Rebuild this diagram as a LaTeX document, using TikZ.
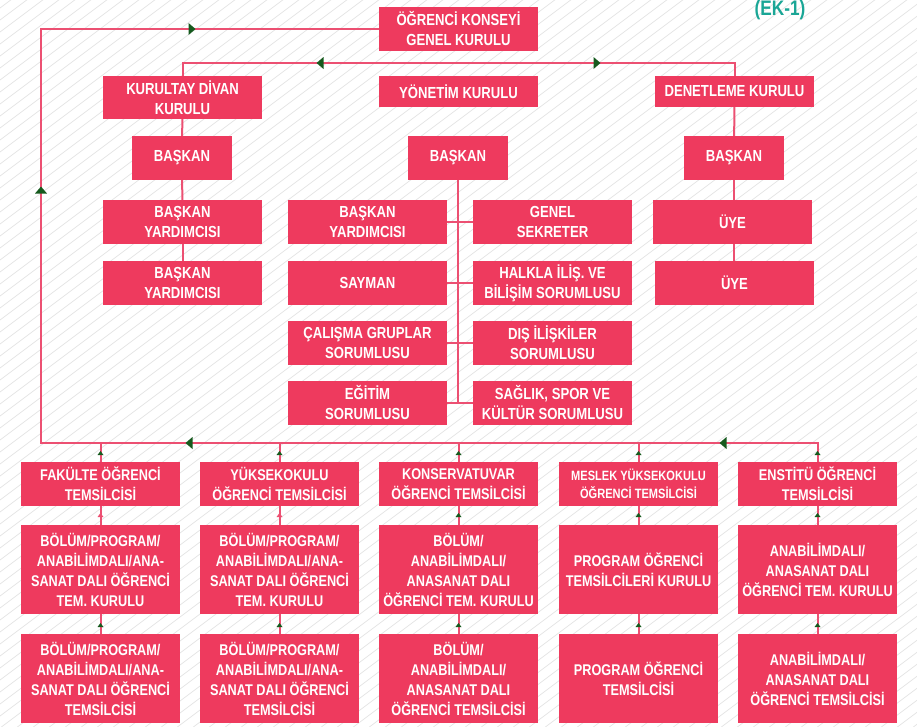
\documentclass[tikz,border=0pt]{standalone}
\usepackage{fontspec}
\setmainfont{Liberation Sans}[FakeStretch=0.82]
\usetikzlibrary{arrows.meta}
\definecolor{boxc}{RGB}{238,58,94}
\definecolor{linec}{RGB}{236,80,114}
\definecolor{arrc}{RGB}{22,90,30}
\definecolor{tealc}{RGB}{26,166,150}
\definecolor{hatchc}{RGB}{228,228,228}
\tikzset{
 box/.style={fill=boxc, text=white, font=\bfseries\fontsize{16}{20}\selectfont, align=center, inner sep=0pt, outer sep=0pt},
 sbox/.style={box, font=\bfseries\fontsize{15.5}{20}\selectfont},
 mbox/.style={box, font=\bfseries\fontsize{13.5}{18}\selectfont},
 conn/.style={draw=linec, line width=2pt},
 bigtip/.style={fill=arrc},
 smalltip/.style={fill=arrc},
 pinktip/.style={fill=linec},
}
\newcommand\bx[7]{\node[#1, minimum width={(#4-#2)*1pt}, minimum height={(#5-#3)*1pt}] (#6) at ({(#2+#4)/2},{(#3+#5)/2}) {#7};}
\newcommand\bigarr[3]{\fill[bigtip, shift={(#1,#2)}, rotate=#3] (3.5,0) -- (-3.5,6) -- (-3.5,-6) -- cycle;}
\newcommand\smarr[4]{\fill[#4, shift={(#1,#2)}, rotate=#3] (2,0) -- (-2,3) -- (-2,-3) -- cycle;}
\begin{document}
\begin{tikzpicture}[x=1pt,y=-1pt]
\useasboundingbox (0,0) rectangle (917,726);
\fill[white] (0,0) rectangle (917,726);
\begin{scope}
\clip (0,0) rectangle (917,726);
\foreach \i in {-70,...,60} {\draw[hatchc, line width=0.7pt] ({\i*16},740) -- ++(1040,-780);}
\end{scope}

% title
\node[text=tealc, font=\bfseries\fontsize{21}{24}\selectfont, anchor=base] (ek) at (780,15) {(EK-1)};

% top level
\bx{box}{379}{7}{538}{51}{top}{ÖĞRENCİ KONSEYİ\\GENEL KURULU}
\bx{box}{103}{76}{262}{119}{kur}{KURULTAY DİVAN\\KURULU}
\bx{box}{379}{76}{538}{107}{yon}{YÖNETİM KURULU}
\bx{box}{655}{76}{814}{107}{den}{DENETLEME KURULU}
\bx{box}{132}{136}{232}{180}{bl}{BAŞKAN}
\bx{box}{408}{136}{508}{180}{bm}{BAŞKAN}
\bx{box}{684}{136}{784}{180}{br}{BAŞKAN}
\bx{box}{103}{200}{262}{244}{ly1}{BAŞKAN\\YARDIMCISI}
\bx{box}{103}{261}{262}{305}{ly2}{BAŞKAN\\YARDIMCISI}
\bx{box}{288}{200}{447}{244}{m1}{BAŞKAN\\YARDIMCISI}
\bx{box}{288}{261}{447}{305}{m2}{SAYMAN}
\bx{box}{288}{321}{447}{365}{m3}{ÇALIŞMA GRUPLAR\\SORUMLUSU}
\bx{box}{288}{381}{447}{425}{m4}{EĞİTİM\\SORUMLUSU}
\bx{box}{473}{200}{632}{244}{n1}{GENEL\\SEKRETER}
\bx{box}{473}{261}{632}{305}{n2}{HALKLA İLİŞ. VE\\BİLİŞİM SORUMLUSU}
\bx{box}{473}{321}{632}{365}{n3}{DIŞ İLİŞKİLER\\SORUMLUSU}
\bx{box}{473}{381}{632}{425}{n4}{SAĞLIK, SPOR VE\\KÜLTÜR SORUMLUSU}
\bx{box}{653}{200}{812}{244}{u1}{ÜYE}
\bx{box}{655}{261}{814}{305}{u2}{ÜYE}

% bottom row 1
\bx{sbox}{21}{462}{180}{506}{a1}{FAKÜLTE ÖĞRENCİ\\TEMSİLCİSİ}
\bx{sbox}{200}{462}{359}{506}{b1}{YÜKSEKOKULU\\ÖĞRENCİ TEMSİLCİSİ}
\bx{sbox}{379}{462}{538}{506}{c1}{KONSERVATUVAR\\ÖĞRENCİ TEMSİLCİSİ}
\bx{mbox}{559}{462}{718}{506}{d1}{MESLEK YÜKSEKOKULU\\ÖĞRENCİ TEMSİLCİSİ}
\bx{sbox}{738}{462}{897}{506}{e1}{ENSTİTÜ ÖĞRENCİ\\TEMSİLCİSİ}
% bottom row 2
\bx{sbox}{21}{525}{180}{614}{a2}{BÖLÜM/PROGRAM/\\ANABİLİMDALI/ANA-\\SANAT DALI ÖĞRENCİ\\TEM. KURULU}
\bx{sbox}{200}{525}{359}{614}{b2}{BÖLÜM/PROGRAM/\\ANABİLİMDALI/ANA-\\SANAT DALI ÖĞRENCİ\\TEM. KURULU}
\bx{sbox}{379}{525}{538}{614}{c2}{BÖLÜM/\\ANABİLİMDALI/\\ANASANAT DALI\\ÖĞRENCİ TEM. KURULU}
\bx{sbox}{559}{525}{718}{614}{d2}{PROGRAM ÖĞRENCİ\\TEMSİLCİLERİ KURULU}
\bx{sbox}{738}{525}{897}{614}{e2}{ANABİLİMDALI/\\ANASANAT DALI\\ÖĞRENCİ TEM. KURULU}
% bottom row 3
\bx{sbox}{21}{634}{180}{723}{a3}{BÖLÜM/PROGRAM/\\ANABİLİMDALI/ANA-\\SANAT DALI ÖĞRENCİ\\TEMSİLCİSİ}
\bx{sbox}{200}{634}{359}{723}{b3}{BÖLÜM/PROGRAM/\\ANABİLİMDALI/ANA-\\SANAT DALI ÖĞRENCİ\\TEMSİLCİSİ}
\bx{sbox}{379}{634}{538}{723}{c3}{BÖLÜM/\\ANABİLİMDALI/\\ANASANAT DALI\\ÖĞRENCİ TEMSİLCİSİ}
\bx{sbox}{559}{634}{718}{723}{d3}{PROGRAM ÖĞRENCİ\\TEMSİLCİSİ}
\bx{sbox}{738}{634}{897}{723}{e3}{ANABİLİMDALI/\\ANASANAT DALI\\ÖĞRENCİ TEMSİLCİSİ}

% connectors
\coordinate (cL) at (41,443);
\coordinate (cT) at (41,29);
\draw[conn] (e1.north) |- (cL) -- (cT) -- (top.west);
\foreach \n in {a1,b1,c1,d1} {\draw[conn] (\n.north) -- (\n.north |- cL);}
\draw[conn] (kur.north) -- ++(0,-13) -| (den.north);
\draw[conn] (kur) -- (bl);
\draw[conn] (bl) -- (ly1);
\draw[conn] (ly1) -- (ly2);
\draw[conn] (den) -- (br);
\draw[conn] (br) -- (u1.north -| br.south);
\draw[conn] (u1.south -| br.south) -- (u2.north -| br.south);
\draw[conn] (bm.south) -- (bm.south |- m4.east);
\draw[conn] (m1.east) -- (n1.west);
\draw[conn] (m2.east) -- (n2.west);
\draw[conn] (m3.east) -- (n3.west);
\draw[conn] (m4.east) -- (n4.west);
\foreach \c in {a,b,c,d,e} {
  \draw[conn] (\c2.north) -- (\c1.south);
  \draw[conn] (\c3.north) -- (\c2.south);
}

% arrowheads
\bigarr{192}{29}{0}
\bigarr{41}{190}{90}
\bigarr{189}{443}{180}
\bigarr{723}{443}{180}
\bigarr{320}{63}{180}
\bigarr{597}{63}{0}
\foreach \x in {100.5,279.5,458.5,638.5,817.5} {
  \smarr{\x}{453}{90}{smalltip}
  \smarr{\x}{625}{90}{smalltip}
}
\smarr{100.5}{515}{90}{pinktip}
\smarr{279.5}{515}{90}{pinktip}
\foreach \x in {458.5,638.5,817.5} {\smarr{\x}{515}{90}{smalltip}}
\end{tikzpicture}
\end{document}
